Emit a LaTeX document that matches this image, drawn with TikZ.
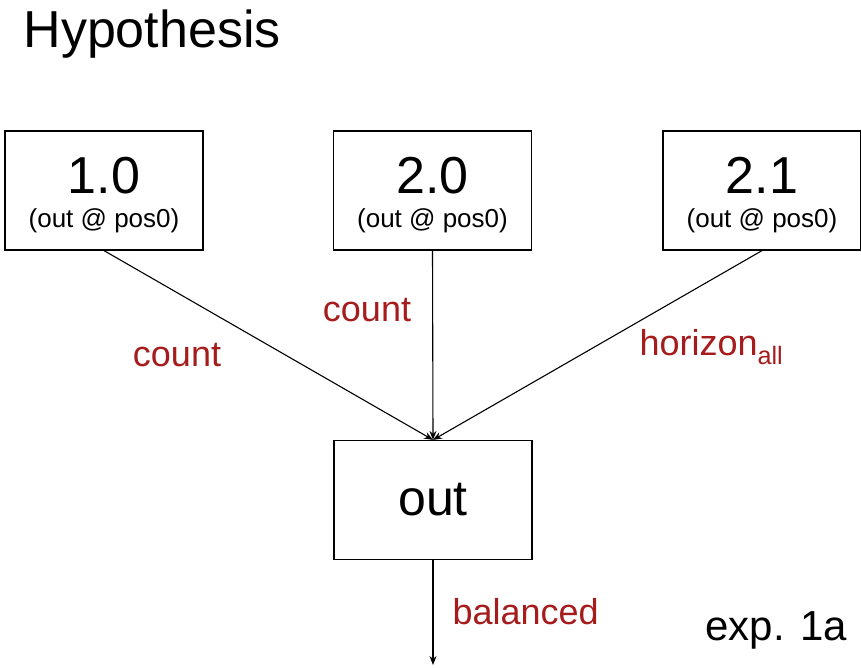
\documentclass[tikz,border=0pt]{standalone}
\usepackage{fontspec}
\setmainfont{Liberation Sans}
\usetikzlibrary{arrows.meta}
\definecolor{labelred}{RGB}{166,28,28}
% version box text: number on top, origin below
\newcommand{\verlabel}[1]{\rule{0pt}{45.5pt}{\fontsize{52}{34}\selectfont #1}\\(out @ pos0)}
\begin{document}
\begin{tikzpicture}[
    x=1pt, y=-1pt,
    >={Stealth[length=9pt,width=7pt]},
    box/.style={
        draw,
        line width=1.2pt,
        minimum width=198pt,
        minimum height=119pt,
        align=center,
        inner sep=0pt
    },
    ver/.style={box, font=\fontsize{26}{34}\selectfont},
    arr/.style={->, line width=1.1pt},
    lbl/.style={text=labelred, font=\fontsize{36}{40}\selectfont}
]
    \useasboundingbox (0,0) rectangle (861,667);

    \node[anchor=base west, font=\fontsize{52}{60}\selectfont] (title) at (20,47) {Hypothesis};

    \node[ver] (v10) at (104,190.5) {\verlabel{1.0}};
    \node[ver] (v20) at (432.5,190.5) {\verlabel{2.0}};
    \node[ver] (v21) at (762,190.5) {\verlabel{2.1}};
    \node[box, font=\fontsize{50}{56}\selectfont] (out) at (433,500) {out};
    \coordinate (end) at (433,665);

    \draw[arr] (v10.south) -- (out.north);
    \draw[arr] (v20.south) -- (out.north);
    \draw[arr] (v21.south) -- (out.north);
    \draw[arr] (out.south) -- (end);

    \node[lbl] (lcount) at (177,355) {count};
    \node[lbl] (mcount) at (367,310) {count};
    \node[lbl, anchor=west] (horizon) at (636,347) {horizon\textsubscript{all}};
    \node[lbl, anchor=west] (balanced) at (449,612) {balanced};
    \node[anchor=west, font=\fontsize{42}{46}\selectfont] (exp) at (702,630) {exp. 1a};
\end{tikzpicture}
\end{document}
